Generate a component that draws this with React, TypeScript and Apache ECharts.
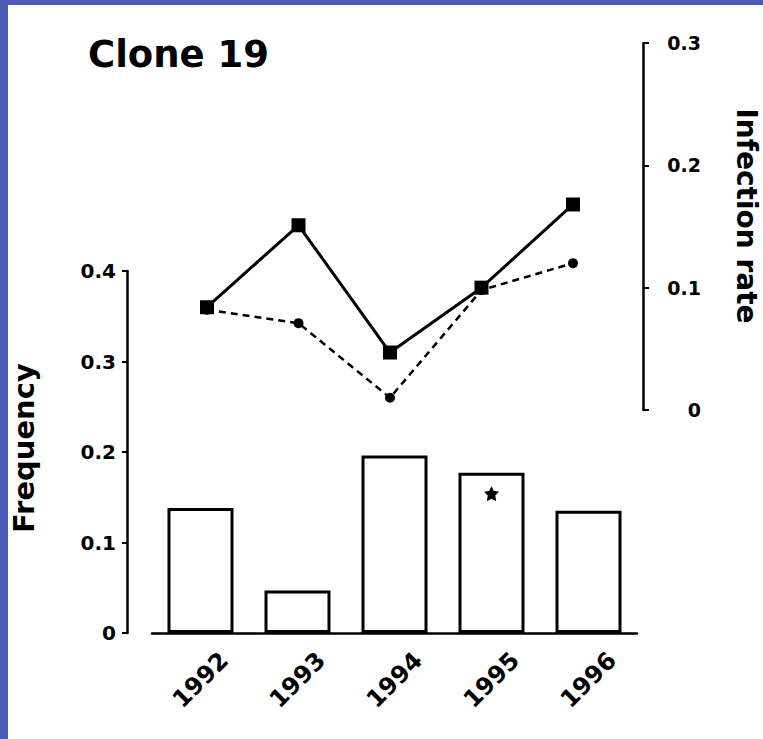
import React, { useEffect, useRef } from "react";
import * as echarts from "echarts";

// Survey years
const years = ["1992", "1993", "1994", "1995", "1996"];
// Clone 19 frequency per year (bars, left axis)
const frequency = [0.138, 0.047, 0.196, 0.177, 0.135];
// Infection rate, solid line with squares (right axis)
const infectionSolid = [0.084, 0.151, 0.047, 0.1, 0.168];
// Infection rate, dashed line with dots (right axis)
const infectionDashed = [0.082, 0.071, 0.01, 0.098, 0.12];
// Significance mark on the bar chart
const markYear = "1995";
const markValue = 0.154;
// Tick labels
const freqTicks = [0, 0.1, 0.2, 0.3, 0.4];
const rateTicks = [0, 0.1, 0.2, 0.3];

const FONT = "DejaVu Sans";
const BLUE = "#4a5ab6";
const fmt = (v: number) => (v === 0 ? "0" : v.toFixed(1));

export default function App() {
  const ref = useRef<HTMLDivElement>(null);

  useEffect(() => {
    if (!ref.current) return;
    const chart = echarts.init(ref.current, null, { renderer: "svg" });
    const axisText = { color: "#000", fontFamily: FONT, fontWeight: "bold" as const };

    chart.setOption({
      animation: false,
      backgroundColor: "#fff",
      grid: [
        { left: 152, right: 126, top: 271, bottom: 106 },
        { left: 207, right: 190, top: 43, bottom: 329 },
      ],
      xAxis: [
        {
          type: "category",
          gridIndex: 0,
          data: years,
          axisLine: { lineStyle: { color: "#000", width: 2.5 } },
          axisTick: { alignWithLabel: true, length: 7, lineStyle: { color: "#000", width: 2.5 } },
          axisLabel: {
            ...axisText,
            fontSize: 24,
            rotate: 45,
            align: "center",
            verticalAlign: "middle",
            margin: 47,
          },
        },
        {
          type: "category",
          gridIndex: 1,
          data: years,
          boundaryGap: false,
          show: false,
        },
      ],
      yAxis: [
        {
          type: "value",
          gridIndex: 0,
          min: freqTicks[0],
          max: freqTicks[freqTicks.length - 1],
          interval: 0.1,
          offset: 25,
          splitLine: { show: false },
          axisLine: { show: true, lineStyle: { color: "#000", width: 2.5 } },
          axisTick: { show: true, length: 5, lineStyle: { color: "#000", width: 2 } },
          axisLabel: { ...axisText, fontSize: 20, margin: 11, formatter: fmt },
        },
        {
          type: "value",
          gridIndex: 1,
          position: "right",
          offset: 70,
          min: rateTicks[0],
          max: rateTicks[rateTicks.length - 1],
          interval: 0.1,
          splitLine: { show: false },
          axisLine: { show: true, lineStyle: { color: "#000", width: 2.5 } },
          axisTick: { show: true, length: 6, lineStyle: { color: "#000", width: 2 } },
          axisLabel: { ...axisText, fontSize: 19, margin: 58, align: "right", formatter: fmt },
        },
      ],
      series: [
        {
          type: "bar",
          xAxisIndex: 0,
          yAxisIndex: 0,
          data: frequency,
          barWidth: 66,
          itemStyle: { color: "#fff", borderColor: "#000", borderWidth: 3 },
        },
        {
          type: "scatter",
          xAxisIndex: 0,
          yAxisIndex: 0,
          data: [[markYear, markValue]],
          symbol:
            "path://M12 0 L15.5 7.5 L24 9 L18 15 L19.5 24 L12 20 L4.5 24 L6 15 L0 9 L8.5 7.5 Z",
          symbolSize: 15,
          itemStyle: { color: "#000", opacity: 1 },
        },
        {
          type: "line",
          xAxisIndex: 1,
          yAxisIndex: 1,
          data: infectionDashed,
          symbol: "circle",
          symbolSize: 10,
          itemStyle: { color: "#000" },
          lineStyle: { color: "#000", width: 2.5, type: [7, 5] },
        },
        {
          type: "line",
          xAxisIndex: 1,
          yAxisIndex: 1,
          data: infectionSolid,
          symbol: "rect",
          symbolSize: 14,
          itemStyle: { color: "#000" },
          lineStyle: { color: "#000", width: 3 },
        },
      ],
      graphic: [
        {
          type: "text",
          left: 88,
          top: 36,
          style: { text: "Clone 19", fill: "#000", font: `bold 37px "${FONT}"` },
        },
        {
          type: "text",
          x: 24,
          y: 448,
          rotation: Math.PI / 2,
          style: {
            text: "Frequency",
            fill: "#000",
            font: `bold 29px "${FONT}"`,
            align: "center",
            verticalAlign: "middle",
          },
        },
        {
          type: "text",
          x: 746,
          y: 216,
          rotation: -Math.PI / 2,
          style: {
            text: "Infection rate",
            fill: "#000",
            font: `bold 28px "${FONT}"`,
            align: "center",
            verticalAlign: "middle",
          },
        },
        {
          type: "rect",
          z: 100,
          shape: { x: 0, y: 0, width: 8, height: 739 },
          style: { fill: BLUE },
        },
        {
          type: "rect",
          z: 100,
          shape: { x: 0, y: 0, width: 763, height: 5 },
          style: { fill: BLUE },
        },
      ],
    });

    return () => chart.dispose();
  }, []);

  return (
    <div
      ref={ref}
      style={{ position: "absolute", left: 0, top: 0, width: 763, height: 739 }}
    />
  );
}
